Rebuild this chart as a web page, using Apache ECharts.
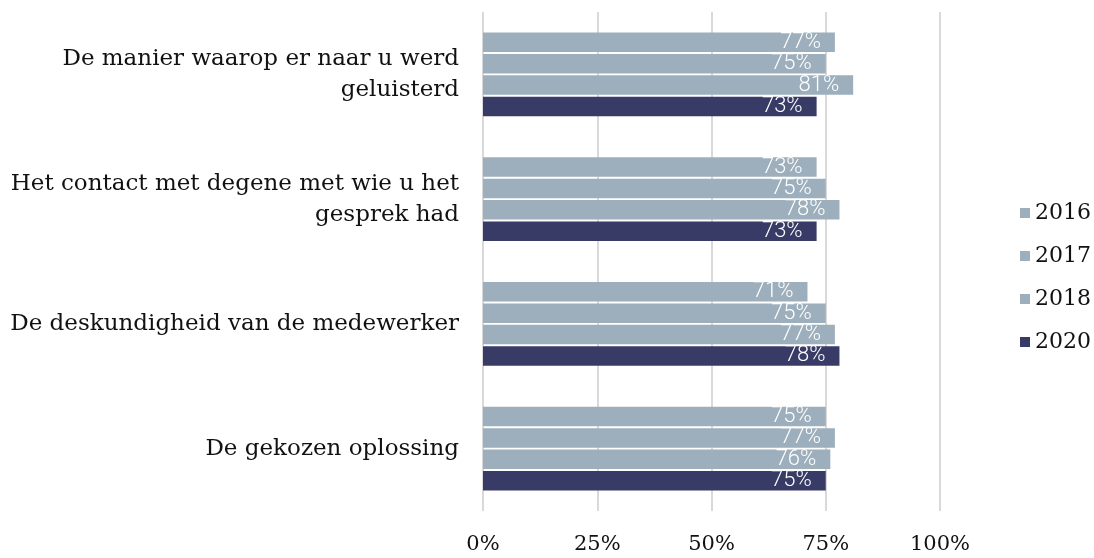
<!DOCTYPE html>
<html><head><meta charset="utf-8">
<script src="https://cdn.jsdelivr.net/npm/echarts@6/dist/echarts.min.js"></script>
<style>html,body{margin:0;padding:0;background:#fff}#c{width:1094px;height:558px}</style>
</head><body><div id="c"></div>
<script>
const categories = [
  "De manier waarop er naar u werd\ngeluisterd",
  "Het contact met degene met wie u het\ngesprek had",
  "De deskundigheid van de medewerker",
  "De gekozen oplossing"
];
const seriesNames = ["2016", "2017", "2018", "2020"];
const v2016 = [77, 73, 71, 75];
const v2017 = [75, 75, 75, 77];
const v2018 = [81, 78, 77, 76];
const v2020 = [73, 73, 78, 75];
const xTicks = [0, 25, 50, 75, 100];
const colors = ["#9DAFBC", "#9DAFBC", "#9DAFBC", "#383B66"];

const values = [v2016, v2017, v2018, v2020];
const chart = echarts.init(document.getElementById('c'));
const serif = "DejaVu Serif";
chart.setOption({
  animation: false,
  grid: {left: 483, right: 154, top: 12, bottom: 47},
  legend: {
    orient: 'vertical', left: 1015, top: 197,
    itemWidth: 10, itemHeight: 10, itemGap: 21,
    icon: 'rect',
    textStyle: {fontFamily: serif, fontSize: 22, color: '#111'},
    data: seriesNames
  },
  xAxis: {
    type: 'value', min: xTicks[0], max: xTicks[xTicks.length-1], interval: 25,
    axisLine: {show: false}, axisTick: {show: false},
    splitLine: {show: true, lineStyle: {color: '#d9d9d9', width: 2}},
    axisLabel: {formatter: '{value}%', fontFamily: serif, fontSize: 21, color: '#111', margin: 23}
  },
  yAxis: {
    type: 'category', data: categories, inverse: true,
    axisLine: {show: false}, axisTick: {show: false},
    axisLabel: {fontFamily: serif, fontSize: 23, color: '#111', margin: 24, align: 'right', lineHeight: 31, padding: [4, 0, 0, 0]}
  },
  series: seriesNames.map((n, i) => ({
    name: n, type: 'bar', data: values[i],
    barGap: '10%', barCategoryGap: '33%',
    itemStyle: {color: colors[i]},
    label: {show: true, position: 'insideRight', distance: 14, formatter: '{c}%',
      color: '#fff', fontFamily: 'Roboto', fontWeight: 300, fontSize: 22}
  }))
});
</script></body></html>
